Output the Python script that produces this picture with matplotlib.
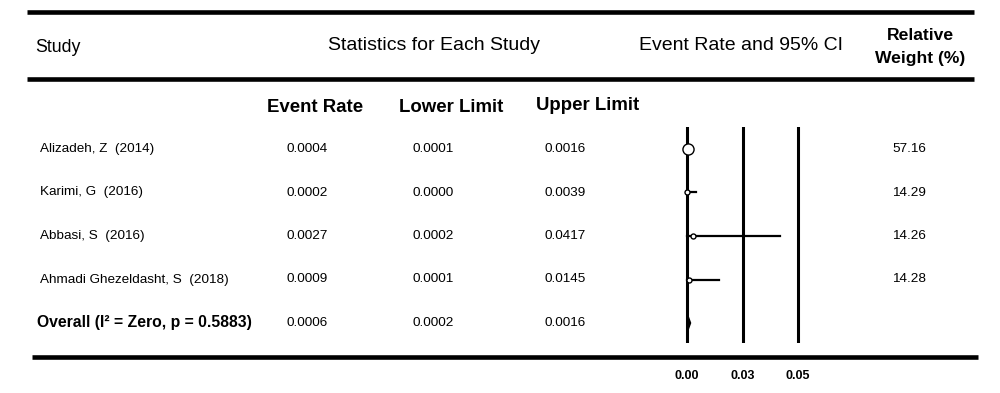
import matplotlib
matplotlib.use('Agg')
import matplotlib.pyplot as plt
import numpy as np

plt.rcParams['font.family'] = ['Liberation Sans', 'DejaVu Sans']

# data
studies = ['Alizadeh, Z  (2014)', 'Karimi, G  (2016)', 'Abbasi, S  (2016)',
           'Ahmadi Ghezeldasht, S  (2018)']
event_rate = [0.0004, 0.0002, 0.0027, 0.0009]
lower = [0.0001, 0.0000, 0.0002, 0.0001]
upper = [0.0016, 0.0039, 0.0417, 0.0145]
weight = [57.16, 14.29, 14.26, 14.28]
overall_label = 'Overall (I² = Zero, p = 0.5883)'
overall = [0.0006, 0.0002, 0.0016]
xticks = [0.0, 0.025, 0.05]

W, H = 1000, 393
fig = plt.figure(figsize=(W / 100, H / 100), dpi=100)

# overlay axes in pixel units for the table
ax = fig.add_axes([0, 0, 1, 1])
ax.set_xlim(0, W)
ax.set_ylim(H, 0)
ax.axis('off')

row_y0, row_dy = 149, 43.5
fs_row = 9.7

# rules
ax.plot([27, 974], [12, 12], color='black', lw=3.3, solid_capstyle='butt')
ax.plot([27, 974], [79, 79], color='black', lw=3.3, solid_capstyle='butt')
ax.plot([32, 978], [357, 357], color='black', lw=3.3, solid_capstyle='butt')

# header
ax.text(35, 47, 'Study', fontsize=12.8, va='center', ha='left')
ax.text(434, 45, 'Statistics for Each Study', fontsize=14, va='center', ha='center')
ax.text(741, 45, 'Event Rate and 95% CI', fontsize=14, va='center', ha='center')
ax.text(920, 35, 'Relative', fontsize=12.6, fontweight='bold', va='center', ha='center')
ax.text(920, 58, 'Weight (%)', fontsize=12.6, fontweight='bold', va='center', ha='center')

ax.text(315, 107, 'Event Rate', fontsize=13.4, fontweight='bold', va='center', ha='center')
ax.text(451, 107, 'Lower Limit', fontsize=13.4, fontweight='bold', va='center', ha='center')
ax.text(588, 105, 'Upper Limit', fontsize=13.4, fontweight='bold', va='center', ha='center')

for i, name in enumerate(studies):
    y = row_y0 + i * row_dy
    ax.text(40, y, name, fontsize=fs_row, va='center', ha='left')
    ax.text(307, y, f'{event_rate[i]:.4f}', fontsize=fs_row, va='center', ha='center')
    ax.text(433, y, f'{lower[i]:.4f}', fontsize=fs_row, va='center', ha='center')
    ax.text(565, y, f'{upper[i]:.4f}', fontsize=fs_row, va='center', ha='center')
    ax.text(909, y, f'{weight[i]:.2f}', fontsize=fs_row, va='center', ha='center')

y = row_y0 + len(studies) * row_dy
ax.text(37, y, overall_label, fontsize=11.3, fontweight='bold', va='center', ha='left')
ax.text(307, y, f'{overall[0]:.4f}', fontsize=fs_row, va='center', ha='center')
ax.text(433, y, f'{overall[1]:.4f}', fontsize=fs_row, va='center', ha='center')
ax.text(565, y, f'{overall[2]:.4f}', fontsize=fs_row, va='center', ha='center')

# forest plot axes
px0, px1 = 660, 830
zero_px, scale = 687, 2220.0
top_px, bot_px = 127, 343
fax = fig.add_axes([px0 / W, 1 - bot_px / H, (px1 - px0) / W, (bot_px - top_px) / H])
fax.set_xlim((px0 - zero_px) / scale, (px1 - zero_px) / scale)
fax.set_ylim((bot_px - row_y0) / row_dy, (top_px - row_y0) / row_dy)
fax.axis('off')
fax.patch.set_alpha(0)

for t in xticks:
    fax.axvline(t, color='black', lw=2.2, zorder=3)

for i in range(len(studies)):
    fax.plot([lower[i], upper[i]], [i, i], color='black', lw=1.6, zorder=2)
    ms = 8 if weight[i] > 50 else 3.6
    fax.plot(event_rate[i], i, 'o', ms=ms, mfc='white', mec='black', mew=1.0, zorder=4)

yo = len(studies)
dh = 0.14
fax.fill([overall[1], overall[0], overall[2], overall[0]],
         [yo, yo - dh, yo, yo + dh], color='black', zorder=2)

# tick labels under the bottom rule
for t in xticks:
    ax.text(zero_px + t * scale, 376, f'{t:.2f}', fontsize=9, fontweight='bold',
            va='center', ha='center')

fig.savefig('out.png', dpi=100)
